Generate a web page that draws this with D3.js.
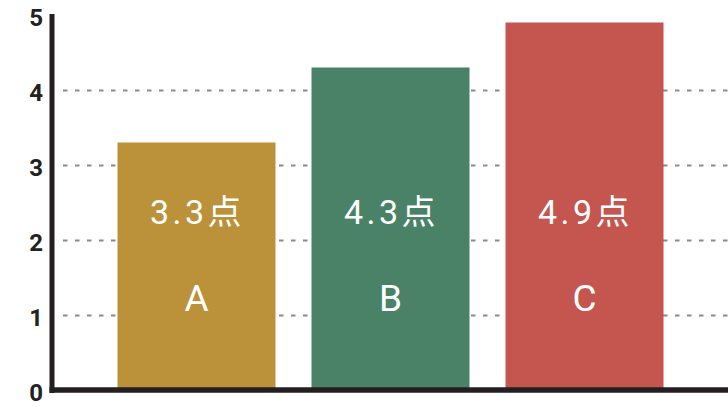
<!DOCTYPE html>
<html>
<head>
<meta charset="utf-8">
<script src="https://cdn.jsdelivr.net/npm/d3@7"></script>
<style>
  html, body { margin: 0; padding: 0; background: #fff; }
  svg { display: block; }
</style>
</head>
<body>
<svg id="chart" width="728" height="407"></svg>
<script>
// Scores per item
const categories = ["A", "B", "C"];
const scores = [3.3, 4.3, 4.9];
const barColors = ["#bb913a", "#4a8268", "#c4554f"];
const yTicks = [0, 1, 2, 3, 4, 5];
const unit = "点";

const W = 728, H = 407;
const svg = d3.select("#chart");

const y = d3.scaleLinear().domain([0, 5]).range([390, 15]);
const x = d3.scaleBand().domain(categories).range([117.5, 663.5]).paddingInner(0.1856).paddingOuter(0);

// dashed gridlines
const grid = d3.axisLeft(y).tickValues(yTicks.filter(d => d > 0 && d < 5))
  .tickSize(-(W - 63)).tickFormat("");
svg.append("g").attr("transform", `translate(63,0)`).call(grid)
  .call(g => g.select(".domain").remove())
  .call(g => g.selectAll("line").attr("stroke", "#8a8a8a").attr("stroke-width", 1.8)
    .attr("stroke-dasharray", "4.5,7.5"));

// bars
svg.append("g").selectAll("rect").data(categories).join("rect")
  .attr("x", d => x(d))
  .attr("width", x.bandwidth())
  .attr("y", (d, i) => y(scores[i]))
  .attr("height", (d, i) => y(0) - y(scores[i]))
  .attr("fill", (d, i) => barColors[i]);

// value labels
svg.append("g").selectAll("text").data(categories).join("text")
  .attr("x", d => x(d) + x.bandwidth() / 2 + 1)
  .attr("y", 224)
  .attr("text-anchor", "middle")
  .attr("fill", "#fff")
  .attr("font-family", "Roboto, 'Noto Sans CJK JP', sans-serif")
  .attr("font-size", 34)
  .attr("letter-spacing", 3.5)
  .text((d, i) => d3.format(".1f")(scores[i]) + unit);

// category labels
svg.append("g").selectAll("text").data(categories).join("text")
  .attr("x", d => x(d) + x.bandwidth() / 2)
  .attr("y", 311)
  .attr("text-anchor", "middle")
  .attr("fill", "#fff")
  .attr("font-family", "Roboto, sans-serif")
  .attr("font-size", 37)
  .text(d => d);

// y axis: tick labels
const yAxis = d3.axisLeft(y).tickValues(yTicks).tickSize(0).tickPadding(0).tickFormat(d3.format("d"));
svg.append("g").attr("transform", "translate(43,3)").call(yAxis)
  .call(g => g.select(".domain").remove())
  .call(g => g.selectAll("text")
    .attr("fill", "#222")
    .attr("font-family", "Roboto, sans-serif")
    .attr("font-weight", "bold")
    .attr("font-size", 24));

// axis lines
svg.append("line").attr("x1", 52).attr("x2", 52).attr("y1", y(5) - 1).attr("y2", y(0) + 3)
  .attr("stroke", "#231f20").attr("stroke-width", 5);
svg.append("line").attr("x1", 49.5).attr("x2", W).attr("y1", y(0)).attr("y2", y(0))
  .attr("stroke", "#231f20").attr("stroke-width", 5.5);
</script>
</body>
</html>
